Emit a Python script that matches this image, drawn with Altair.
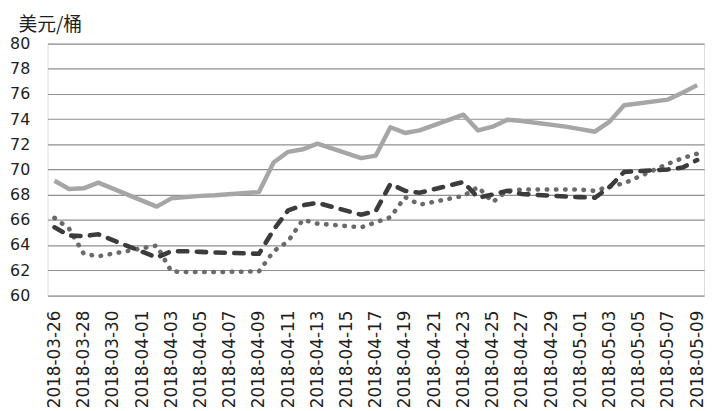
import altair as alt
import pandas as pd

# trading days (weekends / Good Friday have no point)
dates = [
    "2018-03-26", "2018-03-27", "2018-03-28", "2018-03-29",
    "2018-04-02", "2018-04-03", "2018-04-04", "2018-04-05", "2018-04-06",
    "2018-04-09", "2018-04-10", "2018-04-11", "2018-04-12", "2018-04-13",
    "2018-04-16", "2018-04-17", "2018-04-18", "2018-04-19", "2018-04-20",
    "2018-04-23", "2018-04-24", "2018-04-25", "2018-04-26", "2018-04-27",
    "2018-04-30", "2018-05-01", "2018-05-02", "2018-05-03", "2018-05-04",
    "2018-05-07", "2018-05-08", "2018-05-09",
]

brent = [
    69.1, 68.45, 68.5, 68.95,
    67.05, 67.7, 67.8, 67.9, 67.95,
    68.2, 70.55, 71.4, 71.6, 72.05,
    70.9, 71.1, 73.35, 72.9, 73.1,
    74.35, 73.1, 73.4, 73.95, 73.85,
    73.4, 73.2, 73.0, 73.8, 75.1,
    75.55, 76.1, 76.7,
]

wti = [
    65.4, 64.75, 64.7, 64.85,
    63.0, 63.5, 63.5, 63.45, 63.4,
    63.3, 65.2, 66.75, 67.15, 67.35,
    66.4, 66.7, 68.85, 68.3, 68.15,
    69.0, 67.75, 68.0, 68.3, 68.05,
    67.85, 67.8, 67.75, 68.6, 69.8,
    70.0, 70.15, 70.75,
]

dubai = [
    66.15, 65.3, 63.3, 63.1,
    63.95, 61.9, 61.85, 61.85, 61.85,
    61.9, 63.5, 64.3, 66.0, 65.7,
    65.4, 65.8, 66.2, 67.8, 67.2,
    67.9, 68.6, 67.4, 68.3, 68.4,
    68.4, 68.4, 68.3, 68.65, 68.9,
    70.45, 70.9, 71.25,
]

y_ticks = list(range(60, 81, 2))
x_ticks = pd.date_range("2018-03-26", "2018-05-09", freq="2D")


def ms(ts):
    return int(pd.Timestamp(ts, tz="UTC").value // 10**6)


df = pd.DataFrame({"date": dates, "brent": brent, "wti": wti, "dubai": dubai})
long = df.melt("date", var_name="series", value_name="price")

x_enc = alt.X(
    "date:T",
    scale=alt.Scale(
        type="utc",
        domain=[ms("2018-03-25 12:37"), ms("2018-05-09 11:23")],
    ),
    axis=alt.Axis(
        title=None,
        values=[ms(t) for t in x_ticks],
        labelExpr="utcFormat(datum.value, '%Y-%m-%d')",
        labelAngle=270,
        labelPadding=15,
        labelFontSize=17,
        labelFont="DejaVu Sans",
        labelColor="#1e1e1e",
        ticks=False,
        domain=False,
        grid=False,
        labelOverlap=False,
    ),
)
y_enc = alt.Y(
    "price:Q",
    scale=alt.Scale(domain=[60, 80], nice=False, zero=False),
    axis=alt.Axis(
        title="美元/桶",
        titleAngle=0,
        titleAlign="left",
        titleBaseline="middle",
        titleX=-30,
        titleY=-19,
        titleFont="Noto Sans CJK SC",
        titleFontSize=19,
        titleFontWeight="normal",
        titleColor="#1e1e1e",
        values=y_ticks,
        labelPadding=18,
        labelFontSize=16,
        labelFont="DejaVu Sans",
        labelColor="#1e1e1e",
        ticks=False,
        domain=False,
        grid=True,
        gridColor="#8f8f8f",
        gridWidth=1.2,
    ),
)

base = alt.Chart(long).encode(x=x_enc, y=y_enc)

solid = base.transform_filter(alt.datum.series == "brent").mark_line(
    color="#a6a6a6", strokeWidth=4.5, strokeJoin="round"
)
dots = base.transform_filter(alt.datum.series == "dubai").mark_line(
    color="#6a6a6a", strokeWidth=4.6, strokeCap="round", strokeDash=[0.5, 8.8]
)
dashes = base.transform_filter(alt.datum.series == "wti").mark_line(
    color="#3c3c3c", strokeWidth=4.6, strokeCap="round", strokeDash=[9.5, 9.5]
)

chart = alt.layer(solid, dots, dashes).properties(
    width=664,
    height=254.6,
    autosize=alt.AutoSizeParams(type="none"),
    padding={"left": 40, "top": 33.7, "right": 8, "bottom": 114},
).configure_view(stroke=None).configure(background="white")

chart.save("out.html", embed_options={"renderer": "svg", "actions": False})
